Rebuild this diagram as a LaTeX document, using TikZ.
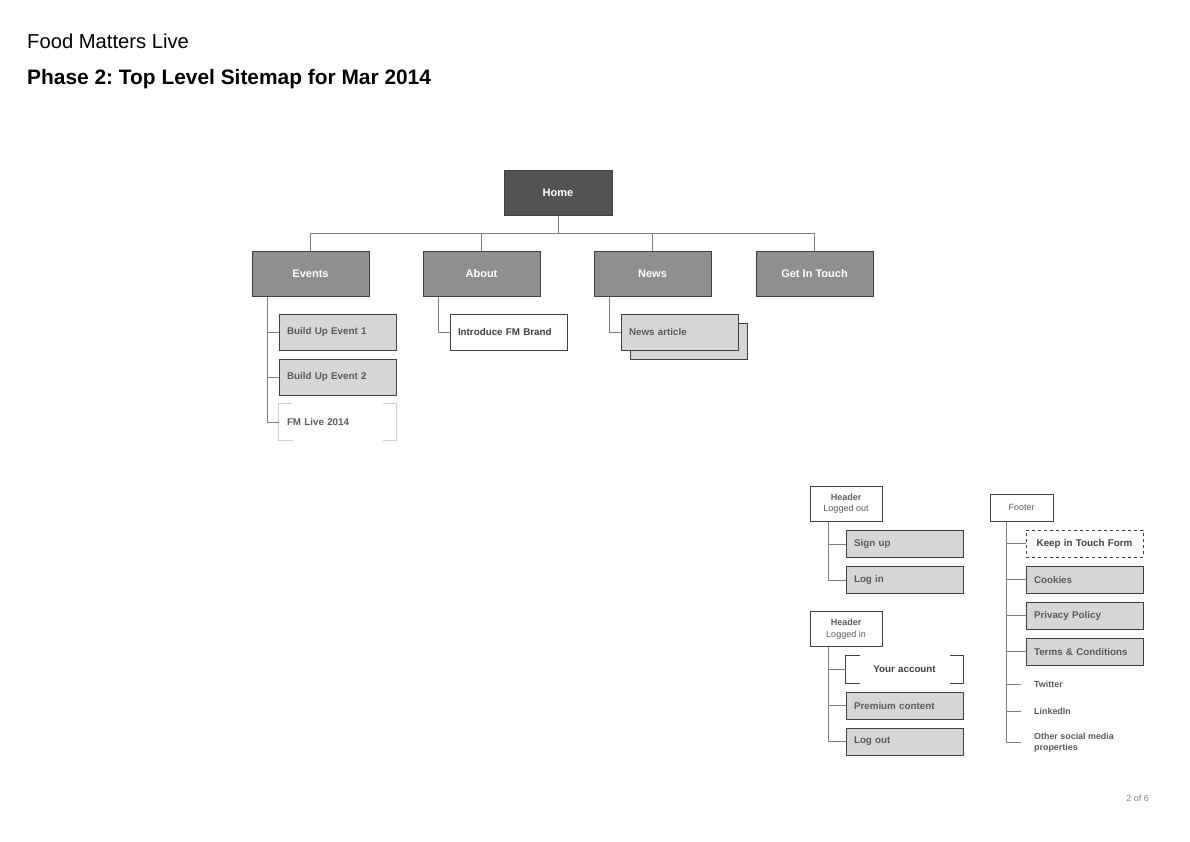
\documentclass[tikz,border=0pt]{standalone}
\usepackage{fontspec}
\setmainfont{Liberation Sans}
\frenchspacing
\definecolor{homegray}{HTML}{535353}
\definecolor{topgray}{HTML}{8F8F8F}
\definecolor{pagegray}{HTML}{D6D6D6}
\definecolor{edgegray}{HTML}{404040}
\definecolor{linkgray}{HTML}{808080}
\definecolor{labelgray}{HTML}{5A5A5A}
\definecolor{palegray}{HTML}{CFCFCF}

\tikzset{
  box/.style={draw=edgegray, line width=1pt, inner sep=0pt},
  homebox/.style={box, fill=homegray, text=white, minimum width=108pt, minimum height=45pt,
    font=\bfseries\fontsize{11}{13}\selectfont},
  sectionbox/.style={box, fill=topgray, text=white, minimum width=117pt, minimum height=45pt,
    font=\bfseries\fontsize{11}{13}\selectfont},
  pagebox/.style={box, fill=pagegray, text=labelgray, text width=101pt, inner xsep=8pt,
    minimum height=36pt, align=left, font=\bfseries\fontsize{9.8}{11}\selectfont},
  smallbox/.style={pagebox, minimum height=27pt},
  headbox/.style={box, fill=white, text=labelgray, minimum width=72pt, minimum height=35pt,
    align=center, font=\bfseries\fontsize{9}{11.5}\selectfont},
  extra/.style={inner sep=0pt, anchor=west, text=labelgray, align=left,
    font=\bfseries\fontsize{8.9}{11}\selectfont},
  link/.style={draw=linkgray, line width=1pt}
}

\begin{document}
\begin{tikzpicture}[x=1pt, y=-1pt]
\useasboundingbox (0,0) rectangle (1190,841);

\node[anchor=base west, inner sep=0pt, font=\fontsize{20.2}{24}\selectfont] (brand) at (27,48) {Food Matters Live};
\node[anchor=base west, inner sep=0pt, font=\bfseries\fontsize{20.9}{25}\selectfont] (title) at (27,84) {Phase 2: Top Level Sitemap for Mar 2014};

\node[homebox] (home) at (558,192.5) {Home};
\foreach \name/\x/\label in {events/310.5/Events, about/481.5/About, news/652.5/News, touch/814.5/Get In Touch}
  \node[sectionbox] (\name) at (\x,273.5) {\label};
\coordinate (bus) at (558,233);
\draw[link] (home.south) -- (bus);
\draw[link] (events.north |- bus) -- (touch.north |- bus);
\foreach \name in {events,about,news,touch}
  \draw[link] (\name.north |- bus) -- (\name.north);

\foreach \name/\y/\label in {upa/332/Build Up Event 1, upb/377/Build Up Event 2}
  \node[pagebox] (\name) at (337.5,\y) {\label};
\node[pagebox, draw=none, fill=none] (fmlive) at (337.5,422) {FM Live 2014};
\draw[draw=palegray, line width=1pt] ([xshift=14pt]fmlive.north west) -- (fmlive.north west) -- (fmlive.south west) -- ++(14,0);
\draw[draw=palegray, line width=1pt] ([xshift=-14pt]fmlive.north east) -- (fmlive.north east) -- (fmlive.south east) -- ++(-14,0);
\foreach \name in {upa,upb,fmlive}
  \draw[link] ([xshift=16pt]events.south west) |- (\name.west);

\node[pagebox, fill=white, text=edgegray] (brandpage) at (508.5,332) {Introduce FM Brand};
\draw[link] ([xshift=16pt]about.south west) |- (brandpage.west);

\node[pagebox] (stack) at (688.5,341) {};
\node[pagebox] (article) at (679.5,332) {News article};
\draw[link] ([xshift=16pt]news.south west) |- (article.west);

\node[headbox] (hout) at (846,503.5) {Header\\{\mdseries Logged out}};
\foreach \name/\y/\label in {signup/544/Sign up, login/580/Log in}
  \node[smallbox] (\name) at (904.5,\y) {\label};
\foreach \name in {signup,login}
  \draw[link] ([xshift=19pt]hout.south west) |- (\name.west);

\node[headbox] (hin) at (846,629) {Header\\{\mdseries Logged in}};
\node[smallbox, draw=none, fill=none, align=center, text=edgegray] (account) at (904.5,669.5) {Your account};
\draw[box] ([xshift=14pt]account.north west) -- (account.north west) -- (account.south west) -- ++(14,0);
\draw[box] ([xshift=-14pt]account.north east) -- (account.north east) -- (account.south east) -- ++(-14,0);
\foreach \name/\y/\label in {premium/705.5/Premium content, logout/741.5/Log out}
  \node[smallbox] (\name) at (904.5,\y) {\label};
\foreach \name in {account,premium,logout}
  \draw[link] ([xshift=19pt]hin.south west) |- (\name.west);

\node[headbox, minimum width=63pt, minimum height=27pt, font=\fontsize{9}{11}\selectfont] (footer) at (1021.5,507.5) {Footer};
\node[smallbox, fill=white, dashed, align=center, text=edgegray] (keep) at (1084.5,543.5) {Keep in Touch Form};
\foreach \name/\y/\label in {cookies/579.5/Cookies, privacy/615.5/Privacy Policy, terms/651.5/Terms \& Conditions}
  \node[smallbox] (\name) at (1084.5,\y) {\label};
\foreach \name/\y/\label in {twitter/684/Twitter, linkedin/711/LinkedIn, social/742.5/Other social media\\properties}
  \node[extra] (\name) at (1034,\y) {\label};
\foreach \name in {keep,cookies,privacy,terms}
  \draw[link] ([xshift=17pt]footer.south west) |- (\name.west);
\foreach \name in {twitter,linkedin}
  \draw[link] ([xshift=17pt]footer.south west) |- ([xshift=-13pt]\name.west);
\draw[link] ([xshift=17pt]footer.south west) |- ([xshift=-13pt,yshift=0.5pt]social.west);

\node[inner sep=0pt, text=linkgray, font=\fontsize{9}{11}\selectfont] (pageno) at (1137.5,798) {2 of 6};
\end{tikzpicture}
\end{document}
